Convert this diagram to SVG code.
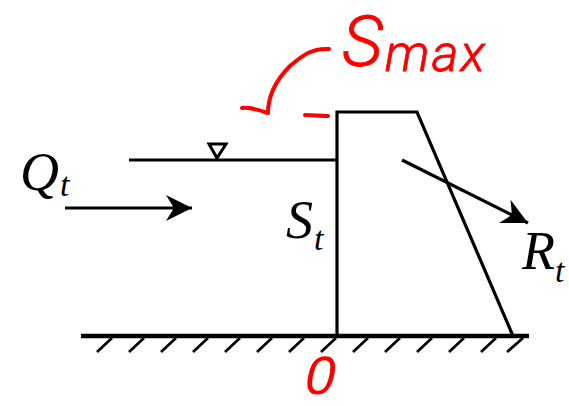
<svg xmlns="http://www.w3.org/2000/svg" width="569" height="406" viewBox="0 0 569 406">
<style>
.b{fill:none;stroke:#000;stroke-width:3.2;stroke-linecap:butt;stroke-linejoin:miter}
.h{fill:none;stroke:#000;stroke-width:2.8}
.r{fill:none;stroke:#f00;stroke-width:4;stroke-linecap:round;stroke-linejoin:round}
.m{font-family:"Liberation Serif","Times New Roman",serif;font-style:italic;fill:#000}
.a{font-family:Roboto,"Liberation Sans",sans-serif;font-weight:300;font-style:italic;fill:#f00;stroke:#f00;stroke-width:.8}
.z{font-family:"Liberation Sans",Arial,sans-serif;fill:#f00}
</style>
<defs>
<marker id="ah" markerUnits="userSpaceOnUse" markerWidth="30" markerHeight="30" refX="26" refY="13" orient="auto"><path d="M0 0L26 13L0 26L8 13Z" fill="#000"/></marker>
</defs>
<rect width="569" height="406" fill="#fff"/>
<g id="ground">
<path d="M81 336H529" fill="none" stroke="#000" stroke-width="4.4"/>
<path class="h" d="M112 338L97 352M144 338L129 352M176 338L161 352M208 338L193 352M240 338L225 352M272 338L257 352M304 338L289 352M336 338L321 352M368 338L353 352M400 338L385 352M432 338L417 352M464 338L449 352M496 338L481 352M523 338L507 352"/>
</g>
<g id="dam"><path class="b" d="M337 336V112H417L513 336"/></g>
<g id="water">
<path class="b" d="M129 160H337"/>
<path fill="none" stroke="#000" stroke-width="3" d="M209 144H226L217 158Z"/>
</g>
<g id="connectors">
<path class="b" d="M65 208H192" marker-end="url(#ah)"/>
<path class="b" d="M402 160L528 223" marker-end="url(#ah)"/>
<path class="r" d="M329 49C312 48 303 55 290 66C279 77 268 93 268 113C262 111 252 107 242 108"/>
<path class="r" d="M305 115C313 115 320 116 328 116"/>
</g>
<g id="label-q"><text class="m" x="20" y="190" font-size="54">Q</text><text class="m" x="60" y="196" font-size="34">t</text></g>
<g id="label-s"><text class="m" x="286" y="238" font-size="54">S</text><text class="m" x="314" y="250" font-size="34">t</text></g>
<g id="label-r"><text class="m" x="522" y="269" font-size="54">R</text><text class="m" x="555" y="282" font-size="34">t</text></g>
<g id="label-smax"><text class="a" x="342" y="66" font-size="71" textLength="143" lengthAdjust="spacing">S<tspan font-size="52" dy="5">max</tspan></text></g>
<g id="label-zero"><text class="z" x="321" y="394" font-size="54" text-anchor="middle" transform="translate(321 376) skewX(-12) translate(-321 -376)">0</text></g>
</svg>
